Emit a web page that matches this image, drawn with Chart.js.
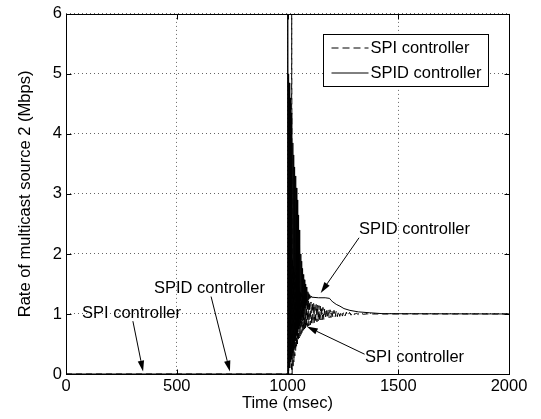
<!DOCTYPE html>
<html>
<head>
<meta charset="utf-8">
<script src="https://cdn.jsdelivr.net/npm/chart.js@4.4.1/dist/chart.umd.min.js"></script>
<style>
    html, body { margin: 0; padding: 0; background: #fff; }
</style>
</head>
<body>
<canvas id="rate-chart" width="541" height="419"></canvas>
<script>
(function () {
    const xTicks = [0, 500, 1000, 1500, 2000];
    const yTicks = [0, 1, 2, 3, 4, 5, 6];

    // SPI controller (dashed)
    const spiTime = [0, 1000, 1018, 1019, 1021, 1023, 1025, 1027, 1029, 1031, 1033, 1035, 1037, 1039,
        1041, 1043, 1045, 1047, 1049, 1051, 1053, 1055, 1057, 1059, 1061, 1063, 1065, 1067, 1069, 1071,
        1073, 1075, 1077, 1079, 1081, 1083, 1085, 1087, 1089, 1091, 1093, 1095, 1097, 1100, 1103, 1106,
        1109, 1112, 1115, 1118, 1121, 1124, 1127, 1130, 1133, 1136, 1139, 1142, 1145, 1148, 1151, 1154,
        1157, 1160, 1164, 1168, 1172, 1176, 1180, 1184, 1188, 1192, 1196, 1200, 1205, 1210, 1215, 1220,
        1225, 1230, 1236, 1242, 1248, 1254, 1260, 1266, 1273, 1280, 1287, 1294, 1302, 1310, 1320, 1330,
        1342, 1360, 1380, 2000];
    const spiRate = [0, 0, 0, 6.5, 0, 1.9, 0.1, 1.8, 0.2, 1.72, 0.3, 1.65, 0.38, 1.58,
        0.45, 1.52, 0.5, 1.47, 0.55, 1.43, 0.6, 1.4, 0.63, 1.37, 0.66, 1.34, 0.69, 1.32, 0.71, 1.3,
        0.73, 1.28, 0.75, 1.26, 0.77, 1.25, 0.78, 1.24, 0.79, 1.23, 0.8, 1.22, 0.81, 1.21, 0.82, 1.2,
        0.83, 1.19, 0.84, 1.18, 0.85, 1.17, 0.86, 1.16, 0.87, 1.15, 0.88, 1.14, 0.89, 1.13, 0.9, 1.12,
        0.905, 1.11, 0.91, 1.1, 0.92, 1.09, 0.93, 1.08, 0.935, 1.07, 0.94, 1.065, 0.945, 1.06, 0.95, 1.05,
        0.955, 1.045, 0.96, 1.04, 0.965, 1.035, 0.97, 1.03, 0.975, 1.025, 0.98, 1.02, 0.985, 1.015, 0.99, 1.008,
        0.995, 1.002, 1, 1];

    // SPID controller (solid)
    const spidTime = [0, 1000, 1001, 1003, 1004, 1006, 1008, 1010, 1012, 1014, 1016, 1018, 1020, 1022,
        1024, 1026, 1028, 1030, 1032, 1034, 1036, 1038, 1040, 1042, 1044, 1046, 1048, 1050, 1052, 1054,
        1056, 1058, 1060, 1062, 1064, 1066, 1068, 1070, 1072, 1074, 1076, 1078, 1080, 1082, 1084, 1086,
        1088, 1090, 1092, 1094, 1096, 1098, 1100, 1103, 1106, 1110, 1140, 1170, 1190, 1196, 1205, 1220,
        1237, 1255, 1282, 1320, 1372, 1430, 2000];
    const spidRate = [0, 0, 6.5, 0, 5.0, 0.05, 4.85, 0.1, 4.6, 0.2, 4.35, 0.25, 4.1, 0.35,
        3.85, 0.4, 3.65, 0.5, 3.45, 0.55, 3.3, 0.6, 3.1, 0.65, 2.9, 0.7, 2.65, 0.75, 2.4, 0.8,
        2.15, 0.85, 2.0, 0.9, 1.88, 0.95, 1.76, 1.0, 1.66, 1.05, 1.57, 1.1, 1.5, 1.14, 1.45, 1.18,
        1.4, 1.21, 1.37, 1.24, 1.34, 1.26, 1.32, 1.27, 1.3, 1.28, 1.27, 1.27, 1.26, 1.23, 1.2, 1.16,
        1.13, 1.09, 1.06, 1.035, 1.02, 1.005, 1];

    const seriesNames = ["SPI controller", "SPID controller"];

    // text callouts with arrows, in data units
    const callouts = [
        { text: "SPI controller", x: 72, y: 0.93, fromX: 302, fromY: 0.88, toX: 348, toY: 0.04 },
        { text: "SPID controller", x: 397, y: 1.35, fromX: 655, fromY: 1.29, toX: 740, toY: 0.04 },
        { text: "SPID controller", x: 1323, y: 2.34, fromX: 1323, fromY: 2.27, toX: 1150, toY: 1.35 },
        { text: "SPI controller", x: 1350, y: 0.2, fromX: 1348, fromY: 0.33, toX: 1087, toY: 0.79 },
    ];

    const FONT = "'Liberation Sans', Arial, Helvetica, sans-serif";
    const FONT_SIZE = 16.5;
    Chart.defaults.font.family = FONT;
    Chart.defaults.font.size = FONT_SIZE;
    Chart.defaults.color = "#000";

    function toPoints(xs, ys) {
        return xs.map((x, i) => ({ x: x, y: ys[i] }));
    }

    function arrow(ctx, x1, y1, x2, y2) {
        const ang = Math.atan2(y2 - y1, x2 - x1);
        const len = 11;
        const half = 3.2;
        const bx = x2 - len * Math.cos(ang);
        const by = y2 - len * Math.sin(ang);
        ctx.beginPath();
        ctx.moveTo(x1, y1);
        ctx.lineTo(bx, by);
        ctx.stroke();
        ctx.beginPath();
        ctx.moveTo(x2, y2);
        ctx.lineTo(bx + half * Math.sin(ang), by - half * Math.cos(ang));
        ctx.lineTo(bx - half * Math.sin(ang), by + half * Math.cos(ang));
        ctx.closePath();
        ctx.fill();
    }

    const framePlugin = {
        id: "frame",
        afterDraw(chart) {
            const ctx = chart.ctx;
            const a = chart.chartArea;
            const sx = chart.scales.x;
            const sy = chart.scales.y;
            ctx.save();
            ctx.strokeStyle = "#000";
            ctx.fillStyle = "#000";
            ctx.lineWidth = 1;
            ctx.setLineDash([]);
            const L = Math.round(a.left) + 0.5;
            const R = Math.round(a.right) + 0.5;
            const T = Math.round(a.top) + 0.5;
            const B = Math.round(a.bottom) + 0.5;
            ctx.strokeRect(L, T, R - L, B - T);

            // inward tick marks on all four sides
            const tl = 5;
            ctx.beginPath();
            xTicks.forEach((v) => {
                const px = Math.round(sx.getPixelForValue(v)) + 0.5;
                ctx.moveTo(px, B); ctx.lineTo(px, B - tl);
                ctx.moveTo(px, T); ctx.lineTo(px, T + tl);
            });
            yTicks.forEach((v) => {
                const py = Math.round(sy.getPixelForValue(v)) + 0.5;
                ctx.moveTo(L, py); ctx.lineTo(L + tl, py);
                ctx.moveTo(R, py); ctx.lineTo(R - tl, py);
            });
            ctx.stroke();

            // callouts
            ctx.font = FONT_SIZE + "px " + FONT;
            ctx.textAlign = "left";
            ctx.textBaseline = "alphabetic";
            callouts.forEach((c) => {
                ctx.fillText(c.text, sx.getPixelForValue(c.x), sy.getPixelForValue(c.y));
                arrow(ctx,
                    sx.getPixelForValue(c.fromX), sy.getPixelForValue(c.fromY),
                    sx.getPixelForValue(c.toX), sy.getPixelForValue(c.toY));
            });

            // legend box, top right inside the axes
            const bw = 165, bh = 52;
            const bx = Math.round(a.right - 21 - bw) + 0.5;
            const by = Math.round(a.top + 20) + 0.5;
            ctx.fillStyle = "#fff";
            ctx.fillRect(bx, by, bw, bh);
            ctx.strokeRect(bx, by, bw, bh);
            ctx.fillStyle = "#000";
            ctx.textBaseline = "middle";
            const rows = [{ dash: [7, 4], dy: 13.5 }, { dash: [], dy: 38.5 }];
            rows.forEach((r, i) => {
                ctx.setLineDash(r.dash);
                ctx.beginPath();
                ctx.moveTo(bx + 8, by + r.dy);
                ctx.lineTo(bx + 45, by + r.dy);
                ctx.stroke();
                ctx.fillText(seriesNames[i], bx + 47, by + r.dy);
            });
            ctx.restore();
        },
    };

    const gridOpts = {
        color: "rgba(0, 0, 0, 0.6)",
        lineWidth: 1,
        drawTicks: false,
    };

    const config = {
        type: "line",
        data: {
            datasets: [
                {
                    label: seriesNames[0],
                    data: toPoints(spiTime, spiRate),
                    borderColor: "#000",
                    borderWidth: 1,
                    borderDash: [6, 4],
                    pointRadius: 0,
                    tension: 0,
                },
                {
                    label: seriesNames[1],
                    data: toPoints(spidTime, spidRate),
                    borderColor: "#000",
                    borderWidth: 1,
                    pointRadius: 0,
                    tension: 0,
                },
            ],
        },
        options: {
            responsive: false,
            animation: false,
            layout: { padding: { top: 13, right: 32, left: 0, bottom: 0 } },
            scales: {
                x: {
                    type: "linear",
                    min: 0,
                    max: 2000,
                    afterBuildTicks: (scale) => { scale.ticks = xTicks.map((v) => ({ value: v })); },
                    afterFit: (scale) => { scale.height = 45; },
                    grid: gridOpts,
                    border: { display: false, dash: [1, 3] },
                    ticks: { padding: 3, maxRotation: 0, callback: (v) => String(v) },
                    title: {
                        display: true,
                        text: "Time (msec)",
                        padding: { top: 0, bottom: 6 },
                    },
                },
                y: {
                    min: 0,
                    max: 6,
                    afterBuildTicks: (scale) => { scale.ticks = yTicks.map((v) => ({ value: v })); },
                    afterFit: (scale) => { scale.width = 66; },
                    grid: gridOpts,
                    border: { display: false, dash: [1, 3] },
                    ticks: { padding: 4, callback: (v) => String(v) },
                    title: {
                        display: true,
                        text: "Rate of multicast source 2 (Mbps)",
                        padding: { top: 15.6, bottom: 0 },
                    },
                },
            },
            plugins: {
                legend: { display: false },
                tooltip: { enabled: false },
            },
        },
        plugins: [framePlugin],
    };

    new Chart(document.getElementById("rate-chart").getContext("2d"), config);
})();
</script>
</body>
</html>
